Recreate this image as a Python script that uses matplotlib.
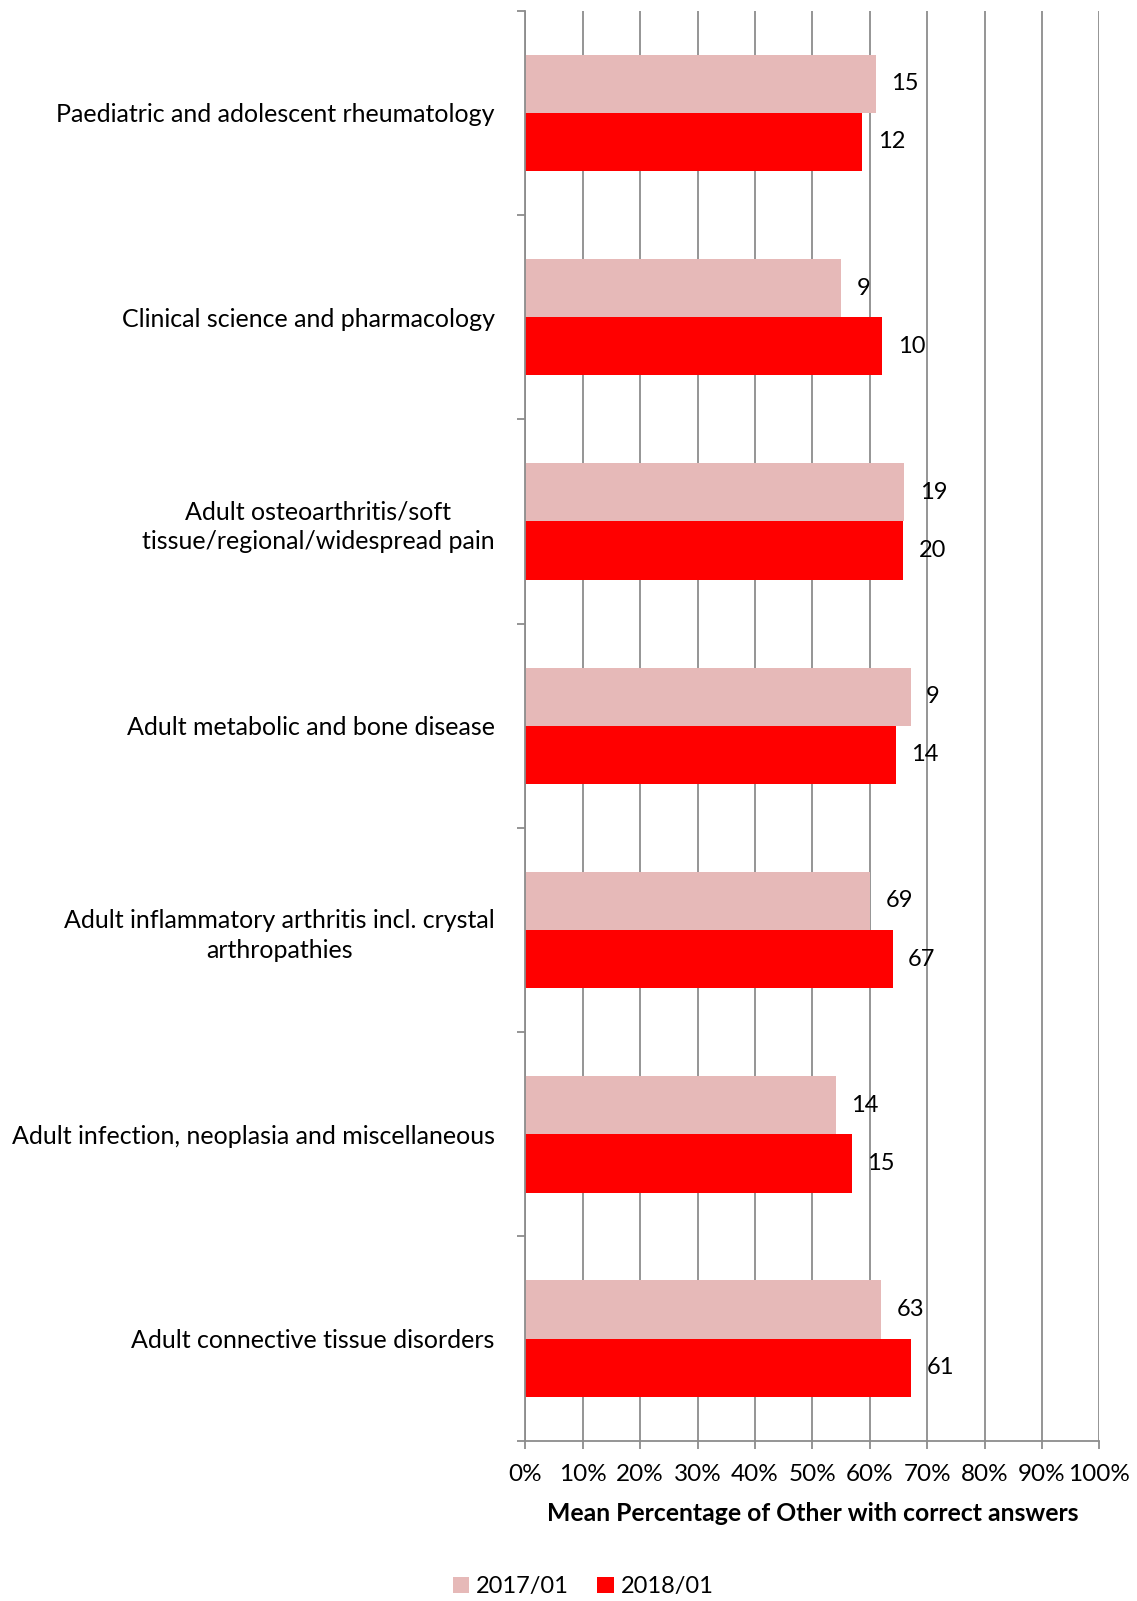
import matplotlib.pyplot as plt
import numpy as np

# Categories, top to bottom as shown
categories = [
    "Paediatric and adolescent rheumatology",
    "Clinical science and pharmacology",
    "Adult osteoarthritis/soft\ntissue/regional/widespread pain",
    "Adult metabolic and bone disease",
    "Adult inflammatory arthritis incl. crystal\narthropathies",
    "Adult infection, neoplasia and miscellaneous",
    "Adult connective tissue disorders",
]
pct_2017 = [61.0, 55.0, 66.0, 67.1, 60.1, 54.1, 62.0]
pct_2018 = [58.7, 62.2, 65.8, 64.6, 64.0, 56.9, 67.2]
n_2017 = [15, 9, 19, 9, 69, 14, 63]
n_2018 = [12, 10, 20, 14, 67, 15, 61]
series_names = ["2017/01", "2018/01"]
xticks = list(range(0, 101, 10))

plt.rcParams["font.family"] = ["Lato", "DejaVu Sans"]

fig = plt.figure(figsize=(11.37, 16.01), dpi=100)
ax = fig.add_axes([0.462, 0.1001, 0.505, 0.8932])

y = np.arange(len(categories))[::-1]
h = 0.285
grey = "#8c8c8c"

b1 = ax.barh(y + h / 2, pct_2017, height=h, color="#E6B9B8", label=series_names[0], zorder=2)
b2 = ax.barh(y - h / 2, pct_2018, height=h, color="#FF0000", label=series_names[1], zorder=2)

for bars, counts in ((b1, n_2017), (b2, n_2018)):
    for bar, n in zip(bars, counts):
        ax.annotate(str(n), (bar.get_width(), bar.get_y() + bar.get_height() / 2),
                    xytext=(11, 0), textcoords="offset points",
                    ha="left", va="center", fontsize=17, color="black")

ax.set_xlim(0, 100)
ax.set_ylim(-0.5, len(categories) - 0.5)
ax.set_xticks(xticks)
ax.set_xticklabels([f"{t}%" for t in xticks], fontsize=17.5)
ax.set_yticks(y)
ax.set_yticklabels(categories, fontsize=18, ha="right", multialignment="center",
                   linespacing=1.35)
ax.set_yticks(np.arange(-0.5, len(categories), 1.0), minor=True)
ax.tick_params(axis="y", which="major", length=0, pad=22)
ax.tick_params(axis="y", which="minor", length=6, color=grey, width=1.3)
ax.tick_params(axis="x", length=6, color=grey, width=1.3, pad=11)

ax.grid(axis="x", color=grey, linewidth=1.3, zorder=0)
ax.set_axisbelow(True)
for side in ("top", "right"):
    ax.spines[side].set_visible(False)
for side in ("left", "bottom"):
    ax.spines[side].set_color(grey)
    ax.spines[side].set_linewidth(1.3)

ax.set_xlabel("Mean Percentage of Other with correct answers", fontsize=17.8,
              fontweight="bold", labelpad=12)

fig.legend(handles=[b1, b2], loc="center", bbox_to_anchor=(0.513, 0.009),
           ncol=2, frameon=False, fontsize=17, handlelength=0.7, handleheight=0.7,
           handletextpad=0.3, columnspacing=1.2)

fig.savefig("out.png", dpi=100)
